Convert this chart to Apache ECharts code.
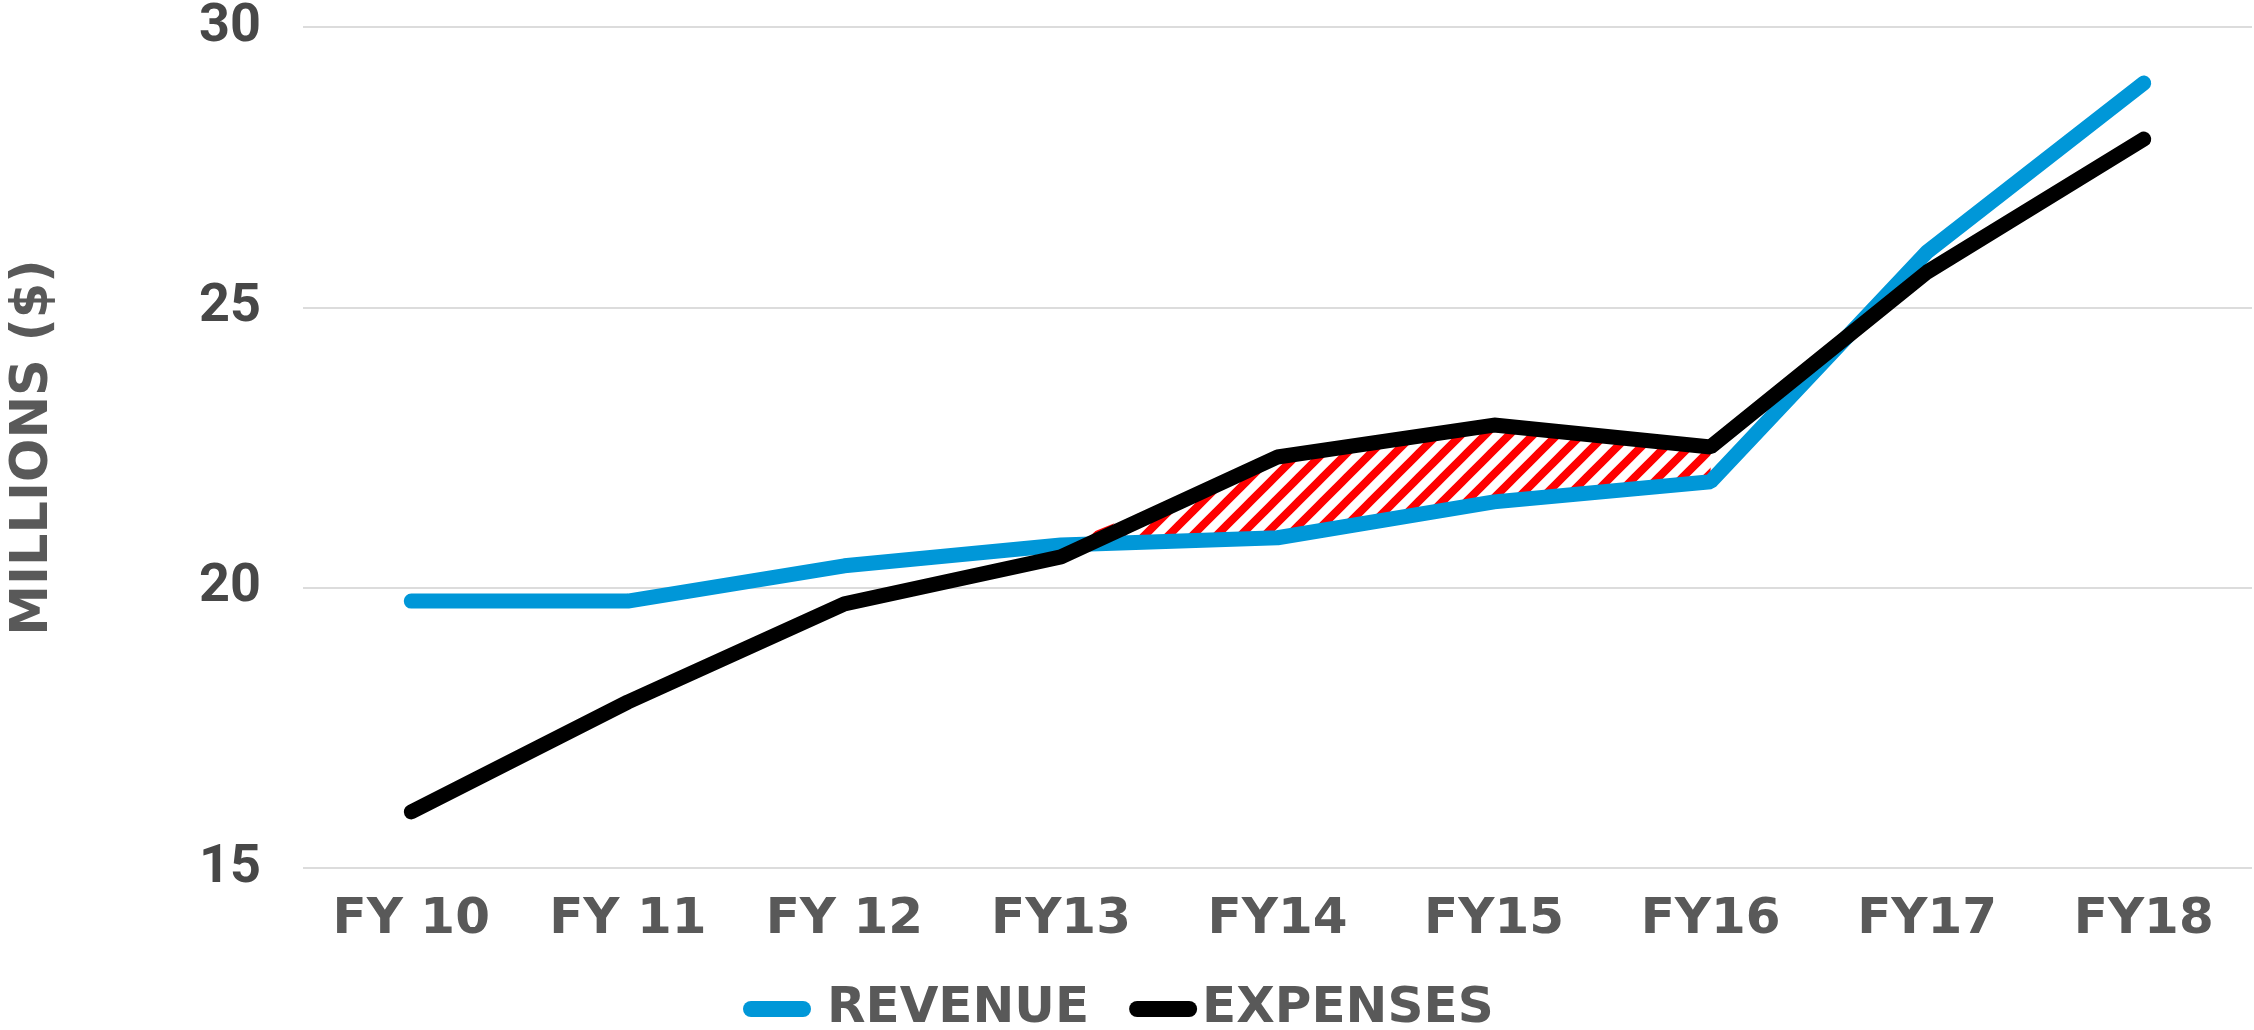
<!DOCTYPE html>
<html>

<head>
    <meta charset="UTF-8">
    <title>Revenue vs Expenses</title>
    <script src="https://cdn.jsdelivr.net/npm/echarts/dist/echarts.min.js"></script>
    <style>
        html, body { margin: 0; padding: 0; background: #fff; }
    </style>
</head>

<body>
    <div id="chart" style="width: 2254px;height:1030px;"></div>
    <script type="text/javascript">
        // data (millions of $)
        var fiscalYears = ['FY 10', 'FY 11', 'FY 12', 'FY13', 'FY14', 'FY15', 'FY16', 'FY17', 'FY18'];
        var revenue = [19.76, 19.76, 20.39, 20.76, 20.89, 21.53, 21.89, 25.99, 29.0];
        var expenses = [16.0, 17.96, 19.71, 20.55, 22.33, 22.90, 22.51, 25.63, 28.0];
        var yTicks = [15, 20, 25, 30];
        // years where the deficit is hatched
        var deficitFrom = 3, deficitTo = 6;

        // hatch band = revenue as a hidden base, then the gap stacked on it
        var hatchBase = revenue.map(function (v, i) {
            return (i >= deficitFrom && i <= deficitTo) ? v : null;
        });
        var hatchGap = revenue.map(function (v, i) {
            if (i < deficitFrom || i > deficitTo) return null;
            return Math.max(0, expenses[i] - v);
        });

        // red diagonal stripes tile
        function makeHatch() {
            var s = 24;
            var c = document.createElement('canvas');
            c.width = s; c.height = s;
            var ctx = c.getContext('2d');
            ctx.strokeStyle = '#ff0000';
            ctx.lineWidth = 8;
            ctx.beginPath();
            ctx.moveTo(-s / 2, s / 2); ctx.lineTo(s / 2, -s / 2);
            ctx.moveTo(0, s); ctx.lineTo(s, 0);
            ctx.moveTo(s / 2, s * 1.5); ctx.lineTo(s * 1.5, s / 2);
            ctx.stroke();
            return c;
        }

        var myChart = echarts.init(document.getElementById('chart'));

        var labelFont = 'DejaVu Sans';
        var pill = 'path://M8,0H60A8,8,0,0,1,60,16H8A8,8,0,0,1,8,0Z';

        var option = {
            animation: false,
            grid: { left: 301, right: 2, top: 27, bottom: 162 },
            legend: {
                data: [
                    { name: 'REVENUE', icon: pill, textStyle: { padding: [0, 0, 0, 11] } },
                    { name: 'EXPENSES', icon: pill, textStyle: { padding: [0, 0, 0, 0] } }
                ],
                left: 738,
                top: 979,
                itemWidth: 68,
                itemHeight: 16,
                itemGap: 40,
                textStyle: {
                    fontFamily: labelFont,
                    fontWeight: 'bold',
                    fontSize: 50,
                    color: '#595959'
                }
            },
            xAxis: {
                type: 'category',
                data: fiscalYears,
                boundaryGap: true,
                axisLine: { show: false },
                axisTick: { show: false },
                axisLabel: {
                    margin: 27,
                    fontFamily: labelFont,
                    fontWeight: 'bold',
                    fontSize: 50,
                    color: '#595959'
                }
            },
            yAxis: {
                type: 'value',
                min: yTicks[0],
                max: yTicks[yTicks.length - 1],
                interval: yTicks[1] - yTicks[0],
                name: 'MILLIONS ($)',
                nameLocation: 'middle',
                nameRotate: 90,
                nameGap: 244,
                nameTextStyle: {
                    fontFamily: labelFont,
                    fontWeight: 'bold',
                    fontSize: 51,
                    color: '#595959'
                },
                axisLine: { show: false },
                axisTick: { show: false },
                splitLine: { lineStyle: { color: '#dcdcdc', width: 2 } },
                axisLabel: {
                    margin: 42,
                    fontFamily: 'Roboto',
                    fontWeight: 'bold',
                    fontSize: 54,
                    color: '#474747'
                }
            },
            series: [
                {
                    name: 'base',
                    type: 'line',
                    stack: 'deficit',
                    data: hatchBase,
                    symbol: 'none',
                    lineStyle: { opacity: 0 },
                    silent: true
                },
                {
                    name: 'deficit',
                    type: 'line',
                    stack: 'deficit',
                    data: hatchGap,
                    symbol: 'none',
                    lineStyle: { opacity: 0 },
                    areaStyle: { color: { image: makeHatch(), repeat: 'repeat' }, opacity: 1 },
                    silent: true
                },
                {
                    name: 'REVENUE',
                    type: 'line',
                    data: revenue,
                    symbol: 'none',
                    itemStyle: { color: '#0097d8' },
                    lineStyle: { color: '#0097d8', width: 15, cap: 'round' }
                },
                {
                    name: 'EXPENSES',
                    type: 'line',
                    data: expenses,
                    symbol: 'none',
                    itemStyle: { color: '#000000' },
                    lineStyle: { color: '#000000', width: 15, cap: 'round' }
                }
            ]
        };

        myChart.setOption(option);
    </script>
</body>

</html>
